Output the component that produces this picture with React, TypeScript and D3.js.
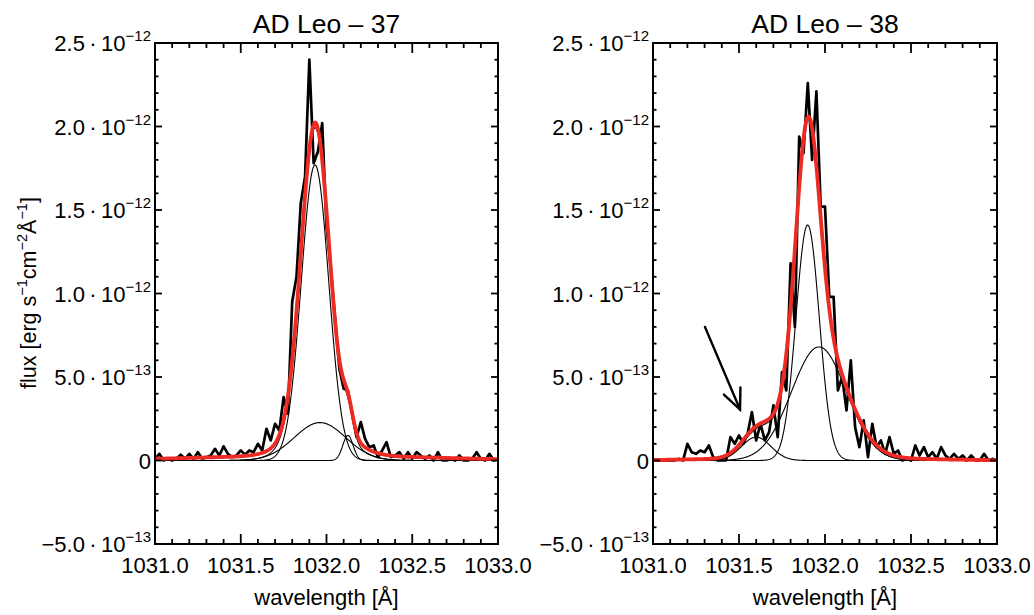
import React from 'react';
import * as d3 from 'd3';

// Wavelength grid (Å) shared by both observed spectra
const WL_START = 1031.0;
const WL_STEP = 0.025;

// Observed flux, in units of 1e-13 erg s^-1 cm^-2 Å^-1
const flux37 = [
  0.1, 0.4, 0.0, 0.1, 0.0, 0.1, 0.35, 0.1, 0.4, 0.1,
  0.5, 0.1, 0.2, 0.3, 0.7, 0.3, 0.85, 0.4, 0.2, 0.3,
  0.6, 0.35, 0.6, 0.5, 1.0, 0.6, 1.9, 1.2, 2.2, 1.8,
  3.8, 2.8, 9.5, 11.0, 15.4, 17.0, 24.0, 17.8, 18.5, 20.2,
  14.0, 11.5, 8.5, 5.5, 4.3, 4.2, 2.8, 1.4, 2.3, 1.3,
  0.8, 0.9, 0.2, 0.6, 1.1, 0.2, 0.3, 0.5, 0.1, 0.5,
  0.1, 0.5, 0.3, 0.1, 0.3, 0.0, 0.5, 0.0, 0.0, 0.1,
  0.0, 0.3, 0.0, 0.0, 0.1, 0.5, 0.1, 0.0, 0.4, 0.0, 0.1,
];

const flux38 = [
  0.0, 0.0, 0.0, 0.0, 0.0, 0.0, 0.1, 0.0, 1.0, 0.5,
  0.4, 0.6, 0.5, 0.9, 0.2, 0.0, 0.0, 0.0, 1.4, 1.0,
  1.5, 1.0, 1.6, 2.9, 1.2, 2.2, 1.2, 1.7, 3.3, 1.4,
  5.3, 4.2, 11.8, 8.0, 19.4, 18.4, 22.6, 18.0, 22.1, 15.2,
  15.2, 9.8, 9.8, 4.2, 5.0, 3.0, 6.0, 2.0, 0.8, 2.4,
  0.2, 2.2, 0.8, 1.2, 0.4, 1.4, 0.4, 0.6, 0.0, 0.1,
  0.0, 0.9, 0.3, 0.8, 0.2, 0.5, 0.1, 0.8, 0.3, 0.1,
  0.4, 0.1, 0.3, 0.0, 0.3, 0.0, 0.0, 0.4, 0.0, 0.1, 0.0,
];

// Fitted Gaussian components (centre Å, amplitude 1e-13, sigma Å)
const centers37 = [1031.933, 1031.962, 1032.125];
const amps37 = [17.7, 2.27, 1.5];
const sigmas37 = [0.08, 0.15, 0.03];
const wing37 = [1031.95, 0.3, 0.65];

const centers38 = [1031.899, 1031.965, 1031.6];
const amps38 = [14.1, 6.8, 1.4];
const sigmas38 = [0.068, 0.16, 0.085];
const wing38 = [1031.95, 0.2, 0.5];

// Arrow in panel 38: [tail λ, tail flux, head λ, head flux]
const arrow38 = [1031.302, 8.0, 1031.506, 3.05];

// Axis ticks
const xMajor = [1031.0, 1031.5, 1032.0, 1032.5, 1033.0];
const xMajorLabels = ['1031.0', '1031.5', '1032.0', '1032.5', '1033.0'];
const yMajor = [-5, 0, 5, 10, 15, 20, 25];
const yMantissa = ['\u22125.0', '0', '5.0', '1.0', '1.5', '2.0', '2.5'];
const yExponent = ['\u221213', '', '\u221213', '\u221212', '\u221212', '\u221212', '\u221212'];

const FONT = '"Liberation Sans", Arial, Helvetica, sans-serif';
const RED = '#ee2a24';

const gauss = (x: number, c: number, a: number, s: number) =>
  a * Math.exp(-((x - c) * (x - c)) / (2 * s * s));

type PanelProps = {
  x0: number;
  x1: number;
  title: string;
  flux: number[];
  centers: number[];
  amps: number[];
  sigmas: number[];
  wing: number[];
  arrow?: number[];
  clipId: string;
};

function Panel({ x0, x1, title, flux, centers, amps, sigmas, wing, arrow, clipId }: PanelProps) {
  const yTop = 43;
  const yBot = 544;
  const xs = d3.scaleLinear().domain([1031, 1033]).range([x0, x1]);
  const ys = d3.scaleLinear().domain([-5, 25]).range([yBot, yTop]);

  const obs = flux.map((f, i) => [WL_START + i * WL_STEP, f] as [number, number]);
  const fine = d3.range(0, 801).map((i) => 1031 + i * 0.0025);

  const line = d3
    .line<[number, number]>()
    .x((d) => xs(d[0]))
    .y((d) => ys(d[1]));

  const compPaths = centers.map((c, k) =>
    line(fine.map((w) => [w, gauss(w, c, amps[k], sigmas[k])] as [number, number]))
  );
  const compSum = (w: number) =>
    centers.reduce((s, c, k) => s + gauss(w, c, amps[k], sigmas[k]), 0);
  const sumPath = line(fine.map((w) => [w, compSum(w)] as [number, number]));
  const total = line(
    fine.map((w) => [w, compSum(w) + gauss(w, wing[0], wing[1], wing[2])] as [number, number])
  );

  const xMinor = d3.range(0, 21).map((i) => 1031 + i * 0.1);
  const yMinor = d3.range(0, 31).map((i) => -5 + i);

  let arrowEl = null;
  if (arrow) {
    const tx = xs(arrow[0]);
    const ty = ys(arrow[1]);
    const hx = xs(arrow[2]);
    const hy = ys(arrow[3]);
    const ang = Math.atan2(ty - hy, tx - hx);
    const L = 22;
    const spread = 0.42;
    const b1 = [hx + L * Math.cos(ang + spread), hy + L * Math.sin(ang + spread)];
    const b2 = [hx + L * Math.cos(ang - spread), hy + L * Math.sin(ang - spread)];
    arrowEl = (
      <g stroke="#000" strokeWidth={2.4} fill="none" strokeLinecap="round">
        <line x1={tx} y1={ty} x2={hx} y2={hy} />
        <polyline points={`${b1[0]},${b1[1]} ${hx},${hy} ${b2[0]},${b2[1]}`} />
      </g>
    );
  }

  const cx = (x0 + x1) / 2;

  return (
    <g>
      <defs>
        <clipPath id={clipId}>
          <rect x={x0} y={yTop} width={x1 - x0} height={yBot - yTop} />
        </clipPath>
      </defs>
      <text x={cx} y={33} textAnchor="middle" fontFamily={FONT} fontSize={26.5} fill="#000">
        {title}
      </text>
      <g clipPath={`url(#${clipId})`}>
        <path d={line(obs) || ''} fill="none" stroke="#000" strokeWidth={2.7} strokeLinejoin="round" />
        {compPaths.map((p, k) => (
          <path key={k} d={p || ''} fill="none" stroke="#000" strokeWidth={1.1} />
        ))}
        <path d={sumPath || ''} fill="none" stroke="#000" strokeWidth={1.1} />
        <path d={total || ''} fill="none" stroke={RED} strokeWidth={3.8} />
      </g>
      {arrowEl}
      {/* frame */}
      <rect x={x0} y={yTop} width={x1 - x0} height={yBot - yTop} fill="none" stroke="#000" strokeWidth={2} />
      {/* ticks */}
      {xMinor.map((v, i) => {
        const major = i % 5 === 0;
        const len = major ? 10 : 5;
        return (
          <g key={'xt' + i} stroke="#000" strokeWidth={1.8}>
            <line x1={xs(v)} x2={xs(v)} y1={yBot} y2={yBot - len} />
            <line x1={xs(v)} x2={xs(v)} y1={yTop} y2={yTop + len} />
          </g>
        );
      })}
      {yMinor.map((v, i) => {
        const major = i % 5 === 0;
        const len = major ? 7 : 3.5;
        return (
          <g key={'yt' + i} stroke="#000" strokeWidth={1.8}>
            <line x1={x0} x2={x0 + len} y1={ys(v)} y2={ys(v)} />
            <line x1={x1} x2={x1 - len} y1={ys(v)} y2={ys(v)} />
          </g>
        );
      })}
      {xMajor.map((v, i) => (
        <text
          key={'xl' + i}
          x={xs(v)}
          y={573}
          textAnchor="middle"
          fontFamily={FONT}
          fontSize={22}
          fill="#000"
        >
          {xMajorLabels[i]}
        </text>
      ))}
      {yMajor.map((v, i) => (
        <text
          key={'yl' + i}
          x={x0 - 4}
          y={ys(v) + 8}
          textAnchor="end"
          fontFamily={FONT}
          fontSize={22}
          fill="#000"
        >
          {yExponent[i] ? (
            <>
              {yMantissa[i]}
              {'\u2009\u00b7\u200910'}
              <tspan fontSize={15} dy={-10}>
                {yExponent[i]}
              </tspan>
            </>
          ) : (
            yMantissa[i]
          )}
        </text>
      ))}
      <text x={cx} y={605} textAnchor="middle" fontFamily={FONT} fontSize={22} fill="#000">
        wavelength [Å]
      </text>
    </g>
  );
}

export default function App() {
  return (
    <svg
      width={1034}
      height={615}
      viewBox="0 0 1034 615"
      style={{ position: 'absolute', left: 0, top: 0, background: '#fff' }}
    >
      <rect x={0} y={0} width={1034} height={615} fill="#fff" />
      <Panel
        x0={155}
        x1={498}
        title={'AD Leo \u2013 37'}
        flux={flux37}
        centers={centers37}
        amps={amps37}
        sigmas={sigmas37}
        wing={wing37}
        clipId="clip37"
      />
      <Panel
        x0={653}
        x1={997}
        title={'AD Leo \u2013 38'}
        flux={flux38}
        centers={centers38}
        amps={amps38}
        sigmas={sigmas38}
        wing={wing38}
        arrow={arrow38}
        clipId="clip38"
      />
      <text
        transform="translate(36,293) rotate(-90)"
        textAnchor="middle"
        fontFamily={FONT}
        fontSize={21.5}
        fill="#000"
      >
        flux [erg s
        <tspan fontSize={14.5} dy={-9}>
          {'\u22121'}
        </tspan>
        <tspan dy={9}>cm</tspan>
        <tspan fontSize={14.5} dy={-9}>
          {'\u22122'}
        </tspan>
        <tspan dy={9}>Å</tspan>
        <tspan fontSize={14.5} dy={-9}>
          {'\u22121'}
        </tspan>
        <tspan dy={9}>]</tspan>
      </text>
    </svg>
  );
}
